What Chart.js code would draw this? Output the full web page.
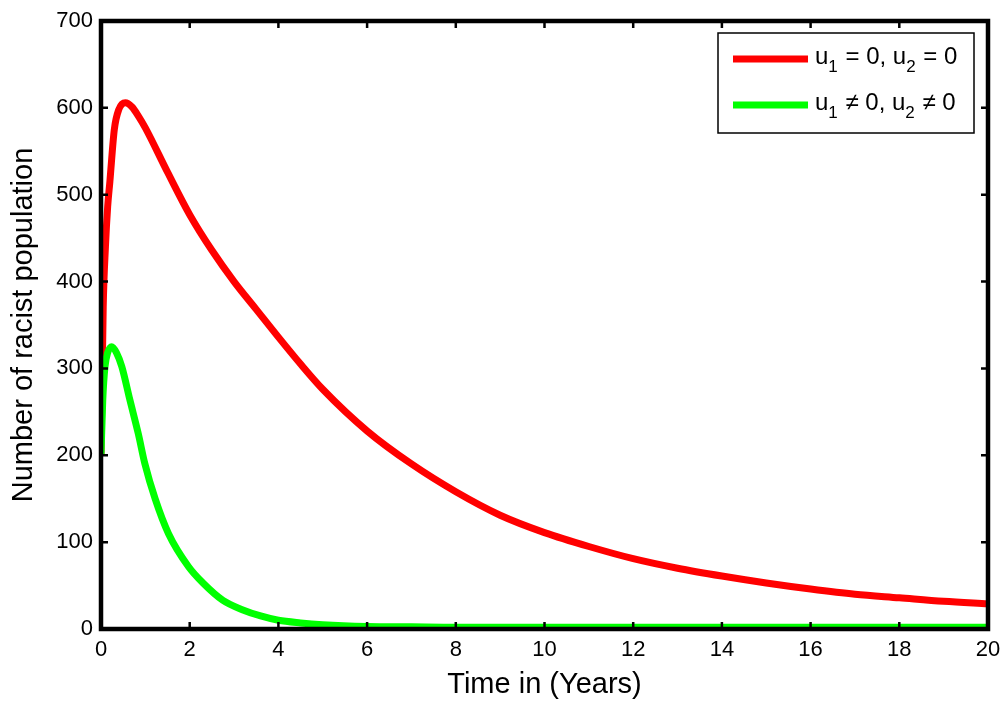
<!DOCTYPE html>
<html>
<head>
<meta charset="utf-8">
<script src="https://cdn.jsdelivr.net/npm/chart.js@4/dist/chart.umd.min.js"></script>
<style>
  html, body { margin: 0; padding: 0; background: #fff; }
  #wrap { width: 1002px; height: 702px; position: relative; }
</style>
</head>
<body>
<div id="wrap"><canvas id="racist-chart"></canvas></div>
<script>
// Racist population over time, without and with controls u1, u2.

const redTime = [0, 0.05, 0.1, 0.15, 0.2, 0.3, 0.4, 0.55, 0.7, 0.85, 1, 1.5, 2, 2.5, 3, 3.5, 4, 4.5, 5,
                 6, 7, 8, 9, 10, 11, 12, 13, 14, 15, 16, 17, 18, 19, 20];
const redPop = [200, 371, 440, 486, 515, 575, 598, 606, 601, 590, 577, 526, 477, 436, 400, 368, 336, 305, 276,
                228, 190, 158, 131, 111, 95, 81, 70, 61, 53, 46, 40, 36, 32, 29];

const greenTime = [0, 0.04, 0.09, 0.15, 0.24, 0.35, 0.47, 0.65, 0.84, 0.99, 1.22, 1.52, 1.97, 2.3, 2.75,
                   3.2, 3.6, 4, 4.5, 5, 6, 7, 8, 10, 12, 14, 16, 18, 20];
const greenPop = [200, 264, 302, 318, 325, 318, 302, 264, 225, 190, 150, 110, 72, 53, 33,
                  22, 15, 10, 7, 5, 3, 2.5, 2, 2, 2, 2, 2, 2, 2];

// legend text pieces: [text, isSubscript]
const redLabel = [['u', false], ['1', true], [' = 0, u', false], ['2', true], [' = 0', false]];
const greenLabel = [['u', false], ['1', true], [' \u2260 0, u', false], ['2', true], [' \u2260 0', false]];

const xTicks = { min: 0, max: 20, step: 2 };
const yTicks = { min: 0, max: 700, step: 100 };

const FONT = 'Liberation Sans, Arial, Helvetica, sans-serif';

function toPoints(xs, ys) {
    return xs.map((x, i) => ({ x: x, y: ys[i] }));
}

// box round the plot area with inward tick marks on all four sides
const framePlugin = {
    id: 'frame',
    afterDatasetsDraw(chart) {
        const { ctx, chartArea: a, scales } = chart;
        ctx.save();
        ctx.strokeStyle = '#000';
        ctx.lineWidth = 2.5;
        ctx.beginPath();
        scales.x.ticks.forEach(t => {
            const px = scales.x.getPixelForValue(t.value);
            ctx.moveTo(px, a.bottom); ctx.lineTo(px, a.bottom - 7);
            ctx.moveTo(px, a.top); ctx.lineTo(px, a.top + 7);
        });
        scales.y.ticks.forEach(t => {
            const py = scales.y.getPixelForValue(t.value);
            ctx.moveTo(a.left, py); ctx.lineTo(a.left + 7, py);
            ctx.moveTo(a.right, py); ctx.lineTo(a.right - 7, py);
        });
        ctx.stroke();
        ctx.lineWidth = 4.5;
        ctx.strokeRect(a.left, a.top, a.right - a.left, a.bottom - a.top);
        ctx.restore();
    }
};

// legend with subscripts, drawn in the top right corner
const legendPlugin = {
    id: 'subLegend',
    afterDraw(chart) {
        const { ctx, chartArea: a } = chart;
        const rows = [
            { color: chart.data.datasets[1].borderColor, parts: redLabel },
            { color: chart.data.datasets[0].borderColor, parts: greenLabel }
        ];
        const boxL = a.right - 270, boxT = a.top + 12, boxW = 256, boxH = 100;
        ctx.save();
        ctx.fillStyle = '#fff';
        ctx.fillRect(boxL, boxT, boxW, boxH);
        ctx.strokeStyle = '#000';
        ctx.lineWidth = 1.5;
        ctx.strokeRect(boxL, boxT, boxW, boxH);
        rows.forEach((row, i) => {
            const ly = boxT + 26 + i * 46;
            ctx.strokeStyle = row.color;
            ctx.lineWidth = 7;
            ctx.beginPath();
            ctx.moveTo(boxL + 15, ly);
            ctx.lineTo(boxL + 90, ly);
            ctx.stroke();
            let tx = boxL + 97;
            ctx.fillStyle = '#000';
            ctx.textBaseline = 'alphabetic';
            row.parts.forEach(([txt, sub]) => {
                ctx.font = (sub ? '17px ' : '24px ') + FONT;
                ctx.fillText(txt, tx, ly + (sub ? 13 : 5));
                tx += ctx.measureText(txt).width + (sub ? 1 : 0);
            });
        });
        ctx.restore();
    }
};

const ctx = document.getElementById('racist-chart').getContext('2d');

new Chart(ctx, {
    type: 'line',
    data: {
        datasets: [{
            label: 'u1 \u2260 0, u2 \u2260 0',
            data: toPoints(greenTime, greenPop),
            borderColor: '#00ff00',
            borderWidth: 7,
            pointRadius: 0,
            cubicInterpolationMode: 'monotone',
            order: 0
        },
        {
            label: 'u1 = 0, u2 = 0',
            data: toPoints(redTime, redPop),
            borderColor: '#ff0000',
            borderWidth: 7,
            pointRadius: 0,
            cubicInterpolationMode: 'monotone',
            order: 1
        }]
    },
    options: {
        responsive: true,
        maintainAspectRatio: false,
        animation: false,
        layout: { padding: { top: 21, right: 14, left: 0, bottom: 0 } },
        plugins: {
            legend: { display: false },
            tooltip: { enabled: false }
        },
        scales: {
            x: {
                type: 'linear',
                min: xTicks.min,
                max: xTicks.max,
                grid: { display: false, drawTicks: false },
                border: { display: false },
                ticks: {
                    stepSize: xTicks.step,
                    color: '#000',
                    padding: 8,
                    maxRotation: 0,
                    font: { family: FONT, size: 22 }
                },
                title: {
                    display: true,
                    text: 'Time in (Years)',
                    color: '#000',
                    padding: { top: 0, bottom: 0 },
                    font: { family: FONT, size: 29 }
                },
                afterFit(scale) {
                    scale.height = 73;
                    scale.paddingLeft = 0;
                    scale.paddingRight = 0;
                }
            },
            y: {
                min: yTicks.min,
                max: yTicks.max,
                grid: { display: false, drawTicks: false },
                border: { display: false },
                ticks: {
                    stepSize: yTicks.step,
                    color: '#000',
                    padding: 8,
                    font: { family: FONT, size: 22 }
                },
                title: {
                    display: true,
                    text: 'Number of racist population',
                    color: '#000',
                    padding: { top: 7, bottom: 0 },
                    font: { family: FONT, size: 29 }
                },
                afterFit(scale) {
                    scale.width = 101;
                    scale.paddingTop = 0;
                    scale.paddingBottom = 0;
                }
            }
        }
    },
    plugins: [framePlugin, legendPlugin]
});
</script>
</body>
</html>
